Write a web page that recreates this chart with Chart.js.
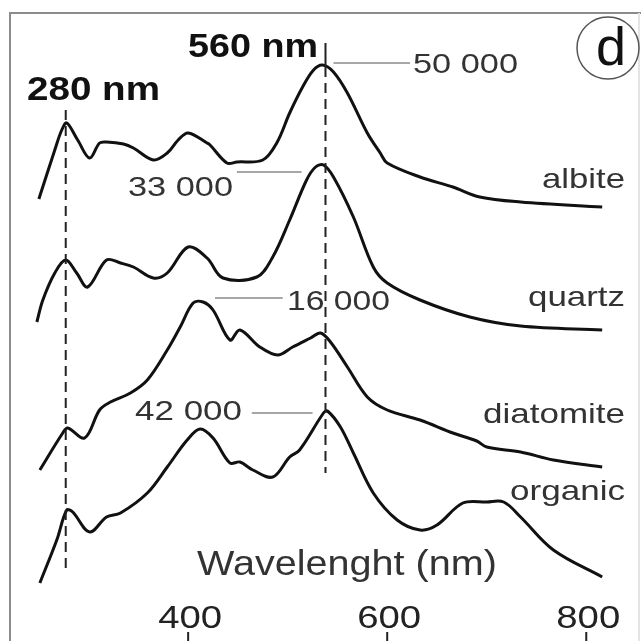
<!DOCTYPE html>
<html>
<head>
<meta charset="utf-8">
<script src="https://cdn.jsdelivr.net/npm/chart.js@4.4.1/dist/chart.umd.min.js"></script>
<style>
  html, body { margin: 0; padding: 0; background: #fff; }
  canvas { display: block; }
</style>
</head>
<body>
<canvas id="spectra" width="641" height="641"></canvas>
<script>
// emission spectra, offset for each sample (arbitrary units)

// wavelength (nm) and offset intensity
let albiteNm = [250, 266, 273, 278, 289, 301, 311, 318, 335, 345, 365, 379, 390, 400, 419, 422, 439, 449, 475, 489, 502, 515, 526, 535, 546, 560, 580, 593, 600, 633, 666, 693, 734, 816];
let albiteVal = [442, 491, 511, 518, 501, 483, 498, 499, 497, 493, 481, 488, 501, 508, 498, 496, 478, 479, 481, 498, 528, 554, 571, 576, 569, 548, 508, 488, 478, 464, 454, 444, 439, 434];

let quartzNm = [248, 254, 266, 277, 288, 299, 318, 332, 345, 365, 379, 400, 419, 435, 469, 485, 502, 519, 528, 536, 546, 566, 586, 600, 633, 683, 734, 816];
let quartzVal = [319, 341, 368, 381, 368, 354, 381, 378, 374, 363, 368, 394, 383, 363, 364, 384, 421, 461, 474, 476, 464, 424, 374, 358, 341, 324, 315, 311];

let diatomiteNm = [251, 274, 279, 296, 311, 322, 342, 359, 379, 392, 405, 415, 425, 442, 452, 472, 490, 505, 523, 533, 543, 560, 580, 600, 633, 666, 690, 700, 734, 767, 816];
let diatomiteVal = [171, 208, 213, 203, 231, 239, 248, 261, 291, 314, 338, 339, 331, 301, 311, 294, 286, 294, 303, 308, 299, 274, 244, 231, 221, 208, 200, 194, 189, 181, 174];

let organicNm = [251, 268, 278, 284, 301, 318, 332, 359, 379, 399, 412, 425, 442, 452, 465, 485, 502, 512, 536, 540, 553, 566, 586, 610, 633, 650, 676, 700, 717, 734, 767, 816];
let organicVal = [58, 101, 131, 129, 109, 124, 128, 148, 174, 201, 212, 203, 178, 179, 171, 164, 184, 191, 228, 230, 214, 188, 148, 121, 111, 116, 138, 139, 139, 124, 91, 64];

// x axis ticks
let tickNm = [400, 600, 800];

// marked wavelengths (dashed guides, drawn where the picture has them)
let guideNm = [277, 538];

function toPoints(xs, ys) {
  return xs.map((x, i) => ({ x: x, y: ys[i] }));
}

function curve(label, xs, ys) {
  return {
    label: label,
    data: toPoints(xs, ys),
    borderColor: "#111",
    borderWidth: 3,
    pointRadius: 0,
    tension: 0.35,
    fill: false,
  };
}

function guide(points, dash, color, width) {
  return {
    data: points,
    borderColor: color,
    borderWidth: width,
    borderDash: dash,
    pointRadius: 0,
    fill: false,
  };
}

// text stretched to a given width (the figure is wider than its fonts)
function stretchText(ctx, text, x, y, font, color, width, align) {
  ctx.save();
  ctx.font = font;
  ctx.fillStyle = color;
  ctx.textBaseline = "alphabetic";
  ctx.textAlign = "left";
  let w = ctx.measureText(text).width;
  let k = width ? width / w : 1;
  let left = x;
  if (align === "center") left = x - (w * k) / 2;
  ctx.translate(left, y);
  ctx.scale(k, 1);
  ctx.fillText(text, 0, 0);
  ctx.restore();
}

const overlay = {
  id: "overlay",
  afterDraw(chart) {
    const ctx = chart.ctx;
    const a = chart.chartArea;
    const xs = chart.scales.x;
    const ys = chart.scales.y;

    // frame
    ctx.save();
    ctx.strokeStyle = "#8c8c8c";
    ctx.lineWidth = 2;
    ctx.beginPath();
    ctx.moveTo(a.left, 641);
    ctx.lineTo(a.left, a.top);
    ctx.lineTo(641, a.top);
    ctx.stroke();
    ctx.strokeStyle = "#e4e4e4";
    ctx.beginPath();
    ctx.moveTo(a.right, a.top);
    ctx.lineTo(a.right, 641);
    ctx.stroke();

    // leader lines for the peak values
    ctx.strokeStyle = "#8a8a8a";
    ctx.lineWidth = 1.5;
    [[546, 623, 578], [449, 514, 469], [427, 495, 343], [464, 525, 228]].forEach((l) => {
      ctx.beginPath();
      ctx.moveTo(xs.getPixelForValue(l[0]), ys.getPixelForValue(l[2]));
      ctx.lineTo(xs.getPixelForValue(l[1]), ys.getPixelForValue(l[2]));
      ctx.stroke();
    });

    // x ticks, labels sit above the marks
    ctx.strokeStyle = "#222";
    ctx.lineWidth = 2;
    tickNm.forEach((t) => {
      let px = xs.getPixelForValue(t);
      ctx.beginPath();
      ctx.moveTo(px, 632);
      ctx.lineTo(px, 641);
      ctx.stroke();
      stretchText(ctx, String(t), px + 2, 628, "32px 'Liberation Sans', Arial", "#222", 64, "center");
    });

    // panel letter
    ctx.strokeStyle = "#555";
    ctx.lineWidth = 1.5;
    ctx.beginPath();
    ctx.arc(608, 48, 31, 0, Math.PI * 2);
    ctx.stroke();
    ctx.restore();

    stretchText(ctx, "d", 611, 65, "54px 'Liberation Sans', Arial", "#111", 0, "center");

    const bold = "bold 33px 'Liberation Sans', Arial";
    const reg = "28px 'Liberation Sans', Arial";
    const grey = "#333";
    stretchText(ctx, "280 nm", 27, 100, bold, "#111", 133);
    stretchText(ctx, "560 nm", 188, 57, bold, "#111", 130);
    stretchText(ctx, "50 000", 413, 73, reg, grey, 105);
    stretchText(ctx, "33 000", 128, 196, reg, grey, 105);
    stretchText(ctx, "16 000", 287, 310, reg, grey, 103);
    stretchText(ctx, "42 000", 135, 420, reg, grey, 107);
    stretchText(ctx, "albite", 542, 188, reg, grey, 83);
    stretchText(ctx, "quartz", 528, 306, reg, grey, 97);
    stretchText(ctx, "diatomite", 483, 423, reg, grey, 142);
    stretchText(ctx, "organic", 510, 500, reg, grey, 115);
    stretchText(ctx, "Wavelenght (nm)", 197, 575, "35px 'Liberation Sans', Arial", grey, 300);
  },
};

const config = {
  type: "line",
  data: {
    datasets: [
      guide([{ x: guideNm[0], y: 531 }, { x: guideNm[0], y: 69 }], [10, 6], "#222", 2),
      guide([{ x: guideNm[1], y: 574 }, { x: guideNm[1], y: 168 }], [10, 6], "#222", 2),
      guide([{ x: guideNm[1], y: 598 }, { x: guideNm[1], y: 574 }], [], "#222", 2),
      curve("albite", albiteNm, albiteVal),
      curve("quartz", quartzNm, quartzVal),
      curve("diatomite", diatomiteNm, diatomiteVal),
      curve("organic", organicNm, organicVal),
    ],
  },
  options: {
    responsive: false,
    animation: false,
    layout: { padding: { left: 10, right: 2, top: 13, bottom: 0 } },
    plugins: { legend: { display: false }, tooltip: { enabled: false } },
    scales: {
      x: { type: "linear", min: 221, max: 853, display: false },
      y: { min: 0, max: 628, display: false },
    },
  },
  plugins: [overlay],
};

const spectraChart = new Chart(document.getElementById("spectra"), config);
</script>
</body>
</html>
